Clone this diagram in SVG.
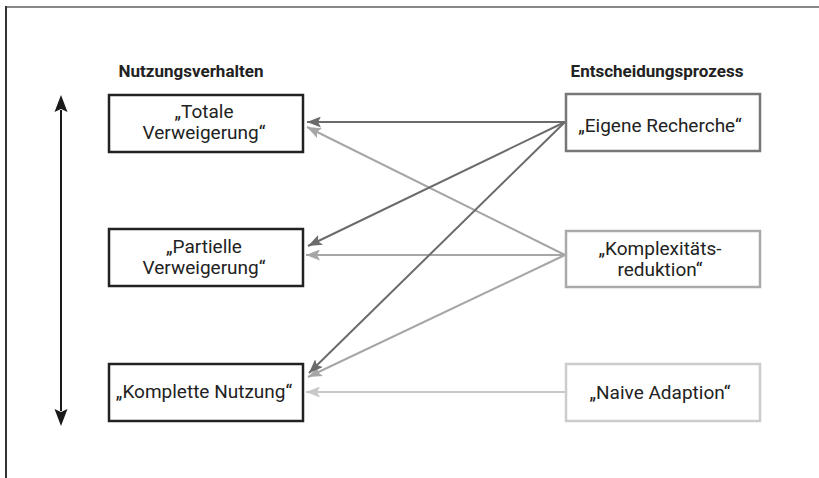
<svg xmlns="http://www.w3.org/2000/svg" width="819" height="478" viewBox="0 0 819 478">
  <style>
    .t { font-family: Roboto, "Open Sans", "DejaVu Sans", sans-serif; font-size: 19px; fill: #222; text-anchor: middle; }
    .h { font-family: Roboto, "Open Sans", "DejaVu Sans", sans-serif; font-size: 17px; font-weight: bold; fill: #222; text-anchor: middle; }
    .lb { fill: #fff; stroke: #222; stroke-width: 2.5; }
    .c1 { stroke: #6b6b6b; stroke-width: 2; fill: none; marker-end: url(#a1); }
    .c2 { stroke: #a6a6a6; stroke-width: 2; fill: none; marker-end: url(#a2); }
    .c3 { stroke: #c8c8c8; stroke-width: 2; fill: none; marker-end: url(#a3); }
  </style>
  <defs>
    <marker id="a1" markerUnits="userSpaceOnUse" markerWidth="14" markerHeight="11" refX="14" refY="5.5" orient="auto">
      <path d="M0,0 L14,5.5 L0,11 L3,5.5 z" fill="#6b6b6b"/>
    </marker>
    <marker id="a2" markerUnits="userSpaceOnUse" markerWidth="14" markerHeight="11" refX="14" refY="5.5" orient="auto">
      <path d="M0,0 L14,5.5 L0,11 L3,5.5 z" fill="#a6a6a6"/>
    </marker>
    <marker id="a3" markerUnits="userSpaceOnUse" markerWidth="14" markerHeight="11" refX="14" refY="5.5" orient="auto">
      <path d="M0,0 L14,5.5 L0,11 L3,5.5 z" fill="#c8c8c8"/>
    </marker>
  </defs>
  <rect width="819" height="478" fill="#fff"/>
  <g id="frame">
    <line x1="6" y1="7" x2="819" y2="7" stroke="#888" stroke-width="2"/>
    <line x1="6" y1="6" x2="6" y2="478" stroke="#333" stroke-width="2"/>
  </g>
  <g id="titles">
    <text class="h" x="191" y="77">Nutzungsverhalten</text>
    <text class="h" x="657" y="77">Entscheidungsprozess</text>
  </g>
  <g id="scale">
    <line x1="61" y1="110" x2="61" y2="411" stroke="#1a1a1a" stroke-width="2"/>
    <path d="M61,95 L67.5,112 L61,109 L54.5,112 z" fill="#1a1a1a"/>
    <path d="M61,426 L67.5,409 L61,412 L54.5,409 z" fill="#1a1a1a"/>
  </g>
  <g id="connectors">
    <line class="c2" x1="565" y1="255" x2="307" y2="127"/>
    <line class="c2" x1="565" y1="255" x2="306" y2="255"/>
    <line class="c2" x1="565" y1="255" x2="308" y2="377"/>
    <line class="c3" x1="565" y1="392" x2="306" y2="392"/>
    <line class="c1" x1="565" y1="122" x2="307" y2="122"/>
    <line class="c1" x1="565" y1="122" x2="308" y2="246"/>
    <line class="c1" x1="565" y1="122" x2="309" y2="373"/>
  </g>
  <g id="n-totale">
    <rect class="lb" x="109" y="95" width="194" height="57"/>
    <text class="t" x="204" y="118">„Totale</text>
    <text class="t" x="204" y="139">Verweigerung“</text>
  </g>
  <g id="n-partielle">
    <rect class="lb" x="109" y="229" width="194" height="57"/>
    <text class="t" x="204" y="253">„Partielle</text>
    <text class="t" x="204" y="274">Verweigerung“</text>
  </g>
  <g id="n-komplette">
    <rect class="lb" x="109" y="364" width="194" height="57"/>
    <text class="t" x="204" y="398">„Komplette Nutzung“</text>
  </g>
  <g id="n-eigene">
    <rect x="566" y="94" width="194" height="57" fill="#fff" stroke="#777" stroke-width="2.5"/>
    <text class="t" x="660" y="132">„Eigene Recherche“</text>
  </g>
  <g id="n-komplex">
    <rect x="566" y="231" width="194" height="56" fill="#fff" stroke="#aaa" stroke-width="2.5"/>
    <text class="t" x="660" y="255">„Komplexitäts-</text>
    <text class="t" x="660" y="276">reduktion“</text>
  </g>
  <g id="n-naive">
    <rect x="566" y="364" width="194" height="57" fill="#fff" stroke="#ccc" stroke-width="2.5"/>
    <text class="t" x="660" y="399">„Naive Adaption“</text>
  </g>
</svg>
